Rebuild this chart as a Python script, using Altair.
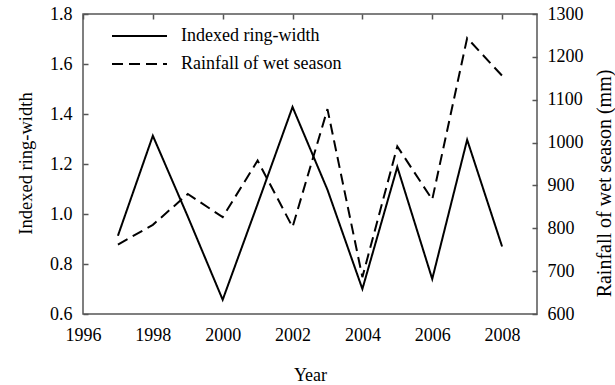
import altair as alt
import pandas as pd

# ---- data ----
years = [1997, 1998, 1999, 2000, 2001, 2002, 2003, 2004, 2005, 2006, 2007, 2008]
ring_width = [0.913, 1.313, 0.99, 0.657, 1.04, 1.428, 1.097, 0.70, 1.188, 0.74, 1.297, 0.87]
rainfall = [762, 808, 880, 826, 958, 803, 1078, 686, 991, 867, 1244, 1156]
series_names = ["Indexed ring-width", "Rainfall of wet season"]
x_ticks = [1996, 1998, 2000, 2002, 2004, 2006, 2008]
left_ticks = [0.6, 0.8, 1.0, 1.2, 1.4, 1.6, 1.8]
right_ticks = [600, 700, 800, 900, 1000, 1100, 1200, 1300]

df_ring = pd.DataFrame({"year": years, "value": ring_width, "series": series_names[0]})
df_rain = pd.DataFrame({"year": years, "value": rainfall, "series": series_names[1]})

FONT = "Liberation Serif"
AXC = "#555555"

xscale = alt.Scale(domain=[1996, 2009], nice=False, zero=False)
lscale = alt.Scale(domain=[0.6, 1.8], nice=False, zero=False)
rscale = alt.Scale(domain=[600, 1300], nice=False, zero=False)

dash = alt.StrokeDash(
    "series:N",
    scale=alt.Scale(domain=series_names, range=[[1, 0], [11, 6]]),
    legend=alt.Legend(
        orient="none", legendX=46, legendY=11.5, title=None,
        symbolType="M-3,0H3", symbolSize=336, symbolStrokeWidth=2,
        symbolStrokeColor="black", labelFontSize=18, labelFont=FONT,
        labelColor="black", rowPadding=8, labelOffset=31, padding=0,
        labelLimit=400,
    ),
)

ring = alt.Chart(df_ring).mark_line(color="black", strokeWidth=2).encode(
    x=alt.X("year:Q", scale=xscale, axis=alt.Axis(
        values=x_ticks, format="d", title="Year", ticks=False, tickSize=0,
        domain=False, grid=False, labelPadding=12, labelFlush=False,
        titleX=227, titleY=66, titleBaseline="alphabetic")),
    y=alt.Y("value:Q", scale=lscale, axis=alt.Axis(
        orient="left", values=left_ticks, format=".1f", title="Indexed ring-width",
        ticks=False, tickSize=0, domain=False, grid=False, labelPadding=11,
        labelFlush=False, titleFontSize=18.5,
        titleX=-58, titleY=149, titleBaseline="middle", titleAngle=270)),
    strokeDash=dash,
)

rain = alt.Chart(df_rain).mark_line(color="black", strokeWidth=2).encode(
    x=alt.X("year:Q", scale=xscale, axis=None),
    y=alt.Y("value:Q", scale=rscale, axis=alt.Axis(
        orient="right", values=right_ticks, format="d", title="Rainfall of wet season (mm)",
        ticks=False, tickSize=0, domain=False, grid=False, labelPadding=10,
        labelFlush=False, titleFontSize=20,
        titleX=67, titleY=169, titleBaseline="middle", titleAngle=270)),
    strokeDash=dash,
)

ring_ticks = alt.Chart(df_ring).mark_line(strokeOpacity=0).encode(
    x=alt.X("year:Q", scale=xscale, axis=alt.Axis(
        values=x_ticks, labels=False, ticks=True, tickSize=5, offset=-5,
        domain=False, grid=False, title=None, tickColor=AXC, tickWidth=1.5)),
    y=alt.Y("value:Q", scale=lscale, axis=alt.Axis(
        orient="left", values=left_ticks, labels=False, ticks=True, tickSize=5,
        offset=-5, domain=False, grid=False, title=None, tickColor=AXC, tickWidth=1.5)),
)

rain_ticks = alt.Chart(df_rain).mark_line(strokeOpacity=0).encode(
    x=alt.X("year:Q", scale=xscale, axis=None),
    y=alt.Y("value:Q", scale=rscale, axis=alt.Axis(
        orient="right", values=right_ticks, labels=False, ticks=True, tickSize=5,
        offset=-5, domain=False, grid=False, title=None, tickColor=AXC, tickWidth=1.5)),
)

chart = (
    alt.layer(ring, rain, ring_ticks, rain_ticks)
    .resolve_scale(y="independent")
    .resolve_axis(x="independent", y="independent")
    .properties(
        width=454, height=300,
        autosize=alt.AutoSizeParams(type="none"),
        padding={"left": 83, "top": 14, "right": 78, "bottom": 71},
        background="white",
    )
    .configure_view(stroke=AXC, strokeWidth=1.5)
    .configure_axis(
        labelFont=FONT, titleFont=FONT, labelColor="black", titleColor="black",
        titleFontWeight="normal", labelFontSize=18, titleFontSize=18,
    )
)

chart.save("out.html", embed_options={"renderer": "svg", "actions": False})
